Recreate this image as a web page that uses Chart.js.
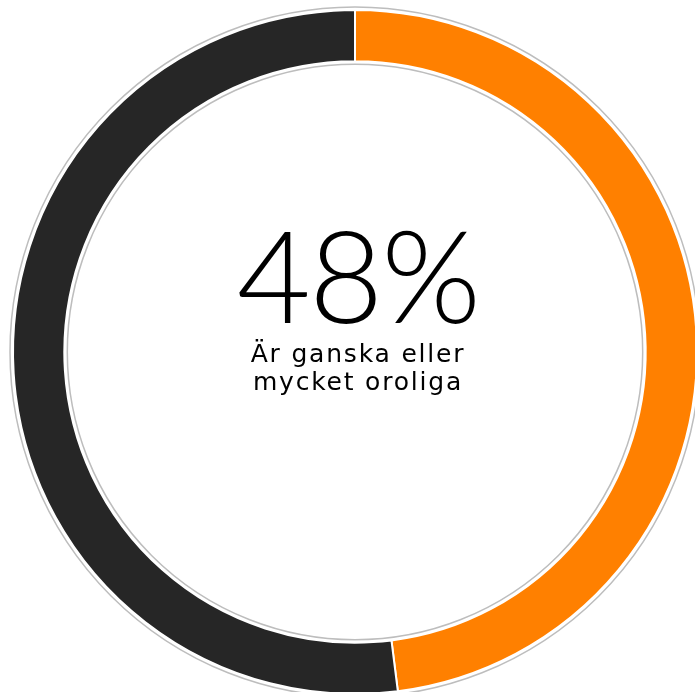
<!DOCTYPE html>
<html>
<head>
    <meta charset="utf-8">
    <title>Oro</title>
    <script src="https://cdn.jsdelivr.net/npm/chart.js"></script>
    <style>
        html, body { margin: 0; padding: 0; background: #fff; overflow: hidden; }
        body { width: 695px; height: 692px; position: relative; }
        .chart-box { position: absolute; left: 6px; top: 3px; width: 698px; height: 698px; }
        .center { position: absolute; left: 0; width: 716px; text-align: center; color: #000; }
        .big { top: 199px; font-family: Lato, sans-serif; font-weight: 300; font-size: 128px; line-height: 150px; letter-spacing: -2px; }
        .sub { top: 340px; font-family: 'DejaVu Sans', sans-serif; font-size: 25px; line-height: 28px; letter-spacing: 1.8px; }
    </style>
</head>
<body>
    <div class="chart-box"><canvas id="donut"></canvas></div>
    <div class="center big" id="bigText"></div>
    <div class="center sub" id="subText"></div>

    <script>
    const labels = ['Ganska eller mycket oroliga', 'Övriga'];
    const values = [48, 52];
    const colors = ['#ff8000', '#262626'];
    const mainLabel = '48%';
    const subLabel = ['Är ganska eller', 'mycket oroliga'];

    document.getElementById('bigText').textContent = mainLabel;
    document.getElementById('subText').innerHTML = subLabel.join('<br>');

    // thin grey circles just outside and inside the ring
    const ringOutline = {
        id: 'ringOutline',
        afterDatasetsDraw(chart) {
            const arc = chart.getDatasetMeta(0).data[0];
            if (!arc) return;
            const ctx = chart.ctx;
            ctx.save();
            ctx.strokeStyle = '#bdbdbd';
            ctx.lineWidth = 1.5;
            ctx.beginPath();
            ctx.arc(arc.x, arc.y, arc.outerRadius + 3, 0, Math.PI * 2);
            ctx.stroke();
            ctx.beginPath();
            ctx.arc(arc.x, arc.y, arc.innerRadius - 3, 0, Math.PI * 2);
            ctx.stroke();
            ctx.restore();
        }
    };

    new Chart(document.getElementById('donut'), {
        type: 'doughnut',
        data: {
            labels: labels,
            datasets: [{
                data: values,
                backgroundColor: colors,
                borderColor: '#ffffff',
                borderWidth: 2
            }]
        },
        options: {
            responsive: true,
            maintainAspectRatio: false,
            animation: false,
            cutout: '85%',
            layout: { padding: 6 },
            plugins: {
                legend: { display: false },
                tooltip: { enabled: false }
            }
        },
        plugins: [ringOutline]
    });
    </script>
</body>
</html>
